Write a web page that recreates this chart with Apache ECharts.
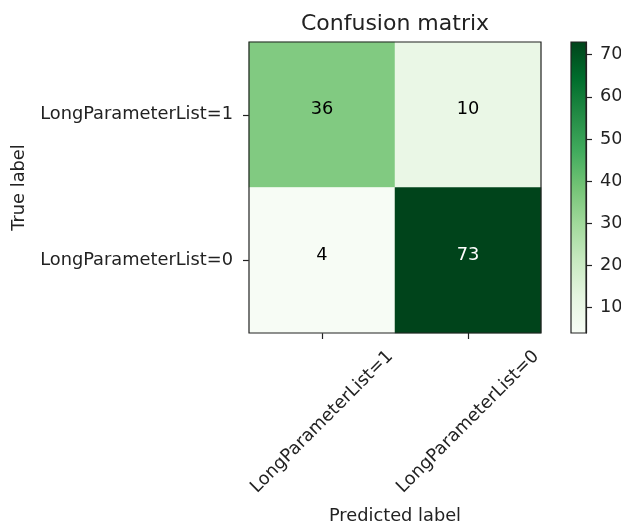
<!DOCTYPE html>
<html>
<head>
<meta charset="utf-8">
<script src="https://cdn.jsdelivr.net/npm/echarts@6/dist/echarts.min.js"></script>
<style>
  html, body { margin: 0; padding: 0; background: #fff; }
  #chart { width: 621px; height: 521px; }
</style>
</head>
<body>
<div id="chart"></div>
<script>
// Class labels (rows = true label, columns = predicted label)
const classLabels = ['LongParameterList=1', 'LongParameterList=0'];
// Counts per true-label row
const rowTrue1 = [36, 10];
const rowTrue0 = [4, 73];
// Colour bar range and ticks
const colorMin = 4;
const colorMax = 73;
const colorTicks = [10, 20, 30, 40, 50, 60, 70];
// matplotlib "Greens" colormap stops
const greens = ['#f7fcf5', '#e5f5e0', '#c7e9c0', '#a1d99b', '#74c476',
                '#41ab5d', '#238b45', '#006d2c', '#00441b'];

const FONT = 'DejaVu Sans';
const INK = '#222';
const FS = 17.8;

const rows = [rowTrue1, rowTrue0];
const thresh = colorMax / 2;
const cells = [];
rows.forEach((row, r) => {
  row.forEach((v, c) => {
    cells.push({
      value: [c, r, v],
      label: { color: v > thresh ? '#fff' : '#000' }
    });
  });
});

// Vertical gradient for the colour bar, bottom (min) to top (max)
const barGradient = new echarts.graphic.LinearGradient(0, 1, 0, 0,
  greens.map((c, i) => ({ offset: i / (greens.length - 1), color: c })));

const chart = echarts.init(document.getElementById('chart'), null, { renderer: 'canvas' });

chart.setOption({
  animation: false,
  backgroundColor: '#fff',
  textStyle: { fontFamily: FONT },
  title: {
    text: 'Confusion matrix',
    left: 395,
    top: 13,
    padding: 0,
    textAlign: 'center',
    textStyle: { fontFamily: FONT, fontSize: 22, fontWeight: 'normal', color: INK }
  },
  grid: [
    {
      left: 249, top: 42, width: 292, height: 291,
      outerBoundsMode: 'none',
      containLabel: false,
      show: true, borderColor: INK, borderWidth: 1.2,
      backgroundColor: 'transparent', z: 10
    },
    {
      left: 571, top: 42, width: 15, height: 291,
      outerBoundsMode: 'none',
      containLabel: false,
      show: true, borderColor: INK, borderWidth: 1.2,
      backgroundColor: 'transparent', z: 10
    }
  ],
  xAxis: [
    {
      gridIndex: 0,
      type: 'category',
      data: classLabels,
      name: 'Predicted label',
      nameLocation: 'middle',
      nameGap: 174,
      nameTextStyle: { fontFamily: FONT, fontSize: FS, color: INK },
      axisLine: { show: false, onZero: false },
      axisTick: { show: true, alignWithLabel: true, length: 6, lineStyle: { color: INK, width: 1.2 } },
      axisLabel: {
        interval: 0,
        rotate: 45,
        align: 'center',
        verticalAlign: 'middle',
        margin: 89,
        fontFamily: FONT, fontSize: FS, color: INK
      },
      splitLine: { show: false }
    },
    {
      gridIndex: 1,
      type: 'category',
      data: ['colorbar'],
      show: false,
      axisLine: { onZero: false }
    }
  ],
  yAxis: [
    {
      gridIndex: 0,
      type: 'category',
      data: classLabels,
      inverse: true,
      name: 'True label',
      nameLocation: 'middle',
      nameGap: 221,
      nameTextStyle: { fontFamily: FONT, fontSize: FS, color: INK },
      axisLine: { show: false, onZero: false },
      axisTick: { show: true, alignWithLabel: true, length: 6, lineStyle: { color: INK, width: 1.2 } },
      axisLabel: { interval: 0, margin: 16, fontFamily: FONT, fontSize: FS, color: INK },
      splitLine: { show: false }
    },
    {
      gridIndex: 1,
      type: 'value',
      position: 'right',
      min: colorMin,
      max: colorMax,
      startValue: colorMin,
      axisLine: { show: true, onZero: false, lineStyle: { color: INK, width: 1.2 } },
      axisTick: { show: true, length: 6, customValues: colorTicks, lineStyle: { color: INK, width: 1.2 } },
      axisLabel: {
        customValues: colorTicks, margin: 14,
        align: 'left', verticalAlign: 'middle',
        fontFamily: FONT, fontSize: FS, color: INK
      },
      splitLine: { show: false }
    }
  ],
  visualMap: {
    type: 'continuous',
    show: false,
    seriesIndex: 0,
    dimension: 2,
    min: colorMin,
    max: colorMax,
    inRange: { color: greens }
  },
  series: [
    {
      type: 'heatmap',
      xAxisIndex: 0,
      yAxisIndex: 0,
      data: cells,
      itemStyle: { borderWidth: 0 },
      label: {
        show: true,
        offset: [0, -5],
        formatter: p => String(p.value[2]),
        fontFamily: FONT,
        fontSize: FS
      },
      emphasis: { disabled: true }
    },
    {
      // colour bar: one bar spanning the full colour range
      type: 'bar',
      xAxisIndex: 1,
      yAxisIndex: 1,
      data: [colorMax],
      barWidth: '100%',
      itemStyle: { color: barGradient },
      emphasis: { disabled: true },
      silent: true
    }
  ]
});
</script>
</body>
</html>
